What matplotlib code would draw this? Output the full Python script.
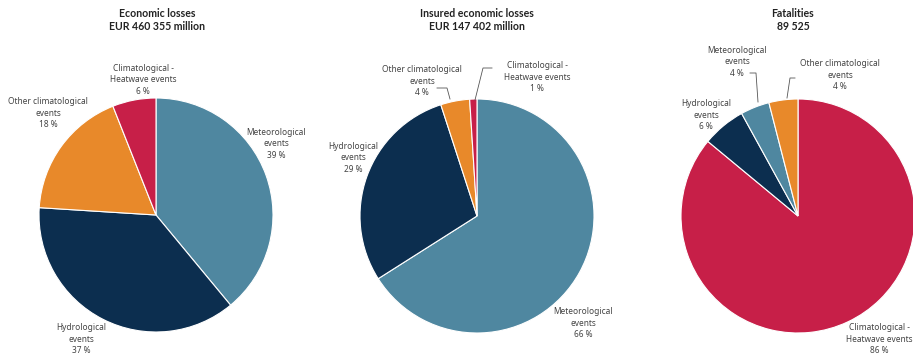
import matplotlib
matplotlib.use("Agg")
import matplotlib.pyplot as plt

plt.rcParams["font.family"] = ["Noto Sans", "DejaVu Sans"]

# figure is laid out in pixel units (913 x 354), y measured from the top
W, H = 913, 354

titles = ["Economic losses\nEUR 460 355 million",
          "Insured economic losses\nEUR 147 402 million",
          "Fatalities\n89 525"]

cat_colors = {
    "Meteorological": "#4f87a0",
    "Hydrological": "#0c2e4f",
    "Other": "#e8892a",
    "Heatwave": "#c71f48",
}
cat_names = {
    "Meteorological": "Meteorological\nevents",
    "Hydrological": "Hydrological\nevents",
    "Other": "Other climatological\nevents",
    "Heatwave": "Climatological -\nHeatwave events",
}

# clockwise from 12 o'clock
econ_cats = ["Meteorological", "Hydrological", "Other", "Heatwave"]
econ_vals = [39, 37, 18, 6]
insured_cats = ["Meteorological", "Hydrological", "Other", "Heatwave"]
insured_vals = [66, 29, 4, 1]
fatal_cats = ["Heatwave", "Hydrological", "Meteorological", "Other"]
fatal_vals = [86, 6, 4, 4]

# pie centres / radius and label anchor points (pixels)
centers = [(156, 215), (477, 216), (798, 216)]
radius = 117
title_x = [157, 477, 793]
label_pos = [
    [(276, 144), (81, 339), (48, 113), (143, 80)],
    [(583, 323), (353, 158), (422, 81), (537, 77)],
    [(879, 339), (706, 115), (737, 62), (840, 75)],
]
leaders = [
    [],
    [None, None, [(437, 88), (447, 88), (450, 99)],
     [(492, 68), (483, 68), (475, 100)]],
    [None, None, [(750, 73), (756, 73), (758, 102)],
     [(795, 78), (790, 78), (787, 98)]],
]

fig = plt.figure(figsize=(W / 100, H / 100), dpi=100)
ax = fig.add_axes([0, 0, 1, 1])

all_cats = [econ_cats, insured_cats, fatal_cats]
all_vals = [econ_vals, insured_vals, fatal_vals]

for i in range(3):
    cats, vals = all_cats[i], all_vals[i]
    cx, cy = centers[i]
    ax.pie(vals, colors=[cat_colors[c] for c in cats], startangle=90,
           counterclock=False, center=(cx, H - cy), radius=radius,
           wedgeprops=dict(edgecolor="white", linewidth=0.8))
    ax.text(title_x[i], H - 20, titles[i], ha="center", va="center",
            fontsize=7.6, fontweight="bold", color="#222222",
            family=["Lato", "DejaVu Sans"], linespacing=1.15)
    for j, c in enumerate(cats):
        lx, ly = label_pos[i][j]
        ax.text(lx, H - ly, "%s\n%d %%" % (cat_names[c], vals[j]),
                ha="center", va="center", fontsize=6.0, color="#444444",
                linespacing=1.3)
    for seg in leaders[i]:
        if seg:
            xs = [p[0] for p in seg]
            ys = [H - p[1] for p in seg]
            ax.plot(xs, ys, color="#555555", linewidth=0.6)

ax.set_xlim(0, W)
ax.set_ylim(0, H)
ax.set_aspect("equal")
ax.axis("off")

fig.savefig("out.png", dpi=100, facecolor="white")
